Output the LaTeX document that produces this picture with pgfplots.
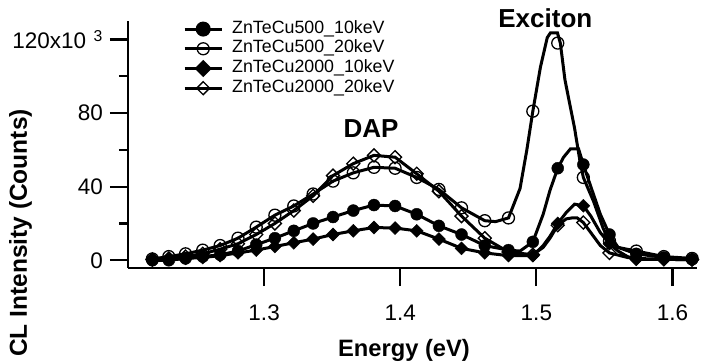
\documentclass[border=0pt]{standalone}
\usepackage{pgfplots}
\pgfplotsset{compat=1.18}
\usepackage{fontspec}
\setmainfont{Liberation Sans}

\begin{document}
\begin{tikzpicture}
\useasboundingbox (-128bp,-96bp) rectangle (574bp,268bp);
\begin{axis}[
  at={(0,0)}, anchor=south west,
  scale only axis, width=569bp, height=247bp,
  xmin=1.2, xmax=1.618, ymin=-4.2, ymax=130,
  axis x line*=bottom, axis y line*=left,
  axis line style={line width=2.2bp, -},
  tick align=outside,
  major tick length=18bp, minor tick length=9bp,
  every tick/.style={line width=2.2bp, black},
  xtick={1.3,1.4,1.5,1.6},
  xticklabels={1.3,1.4,1.5,1.6},
  ytick={0,40,80,120},
  yticklabels={0,40,80,{120x10\,\,\textsuperscript{3}}},
  minor ytick={20,60,100},
  ticklabel style={font=\fontsize{22.5bp}{25bp}\selectfont},
  xticklabel style={anchor=base, yshift=-34bp},
  yticklabel style={xshift=-3.5bp},
  clip=false,
  legend style={at={(rel axis cs:0.0967,1.008)}, anchor=north west, draw=none, fill=none,
    inner sep=0pt, font=\fontsize{17.8bp}{20bp}\selectfont, row sep=0bp, column sep=9bp,
    nodes={inner sep=0pt, text height=14bp, text depth=5.7bp},
    legend cell align=left},
  legend image code/.code={\draw[mark repeat=2,mark phase=2,#1] plot coordinates {(0bp,0bp) (18.5bp,0bp) (37bp,0bp)};},
]
% ZnTeCu500_10keV (filled circles)
\addplot[black, line width=3bp, forget plot] coordinates {
(1.2179,0) (1.2300,0) (1.2423,1) (1.2549,2) (1.2677,3) (1.2808,5) (1.2942,8.5) (1.3079,12)
(1.3218,16) (1.3360,20) (1.3506,23.5) (1.3655,27) (1.3807,30) (1.3962,29.5) (1.4121,25)
(1.4284,18.7) (1.4450,14) (1.4621,8) (1.4795,5.5) (1.4880,5) (1.4974,10) (1.5050,25)
(1.5100,38) (1.5157,50) (1.5200,56) (1.5250,60.5) (1.5310,60.5) (1.5345,52) (1.5400,40)
(1.5470,25) (1.5537,14) (1.5600,7) (1.5734,3.5) (1.5936,1.5) (1.6144,0.5) (1.6186,0.5)};
% ZnTeCu500_20keV (open circles)
\addplot[black, line width=3bp, forget plot] coordinates {
(1.2179,0.7) (1.2300,2) (1.2423,3.5) (1.2549,5.5) (1.2677,8) (1.2808,12) (1.2942,18) (1.3079,24.5)
(1.3218,29.5) (1.3360,36) (1.3506,43) (1.3655,47.5) (1.3807,50.5) (1.3962,50) (1.4121,45)
(1.4284,38.5) (1.4450,28.5) (1.4621,21.5) (1.4700,21) (1.4795,23) (1.4880,39) (1.4930,60)
(1.4974,81) (1.5030,105) (1.5080,121) (1.5103,123.5) (1.5155,123.5) (1.5176,118) (1.5210,98)
(1.5280,72) (1.5320,54) (1.5345,45) (1.5420,32) (1.5490,17.5) (1.5537,10.5) (1.5600,7)
(1.5734,5) (1.5936,2) (1.6144,1) (1.6186,1)};
% ZnTeCu2000_10keV (filled diamonds)
\addplot[black, line width=3bp, forget plot] coordinates {
(1.2179,0) (1.2300,0.5) (1.2423,1) (1.2549,1.5) (1.2677,2.5) (1.2808,4) (1.2942,5.5) (1.3079,7.5)
(1.3218,9.5) (1.3360,11.5) (1.3506,14) (1.3655,16) (1.3807,17.8) (1.3962,17.5) (1.4121,16)
(1.4284,11.5) (1.4450,6.5) (1.4621,4) (1.4795,2.5) (1.4974,2.5) (1.5050,8) (1.5100,13)
(1.5157,20) (1.5220,26) (1.5280,30.5) (1.5345,29.6) (1.5400,24) (1.5470,15) (1.5537,9)
(1.5600,5) (1.5670,2) (1.5734,0.5) (1.5936,0.5) (1.6144,0.3) (1.6186,0.3)};
% ZnTeCu2000_20keV (open diamonds)
\addplot[black, line width=3bp, forget plot] coordinates {
(1.2179,0.5) (1.2300,1) (1.2423,2) (1.2549,3.5) (1.2677,6) (1.2808,9) (1.2942,14) (1.3079,20)
(1.3218,27) (1.3360,35) (1.3506,46) (1.3655,52.5) (1.3807,57) (1.3962,56) (1.4121,47)
(1.4284,37.5) (1.4450,24) (1.4621,12) (1.4795,4.5) (1.4974,3) (1.5050,7) (1.5100,12)
(1.5157,19) (1.5220,22.5) (1.5260,23) (1.5300,23) (1.5345,20.5) (1.5400,15) (1.5470,8)
(1.5537,4) (1.5670,1.5) (1.5734,1) (1.5936,0.5) (1.6144,0.3) (1.6186,0.3)};
% markers
\addplot[black, only marks, mark=*, mark size=6bp, forget plot] coordinates {
(1.2179,0) (1.2300,0) (1.2423,1) (1.2549,2) (1.2677,3) (1.2808,5) (1.2942,8.5) (1.3079,12)
(1.3218,16) (1.3360,20) (1.3506,23.5) (1.3655,27) (1.3807,30) (1.3962,29.5) (1.4121,25)
(1.4284,18.7) (1.4450,14) (1.4621,8) (1.4795,5.5) (1.4974,10) (1.5157,50) (1.5345,52)
(1.5537,14) (1.5734,3.5) (1.5936,1.5) (1.6144,0.5)};
\addplot[black, only marks, mark=o, mark size=6bp, mark options={line width=1.3bp}, forget plot] coordinates {
(1.2179,0.7) (1.2300,2) (1.2423,3.5) (1.2549,5.5) (1.2677,8) (1.2808,12) (1.2942,18) (1.3079,24.5)
(1.3218,29.5) (1.3360,36) (1.3506,43) (1.3655,47.5) (1.3807,50.5) (1.3962,50) (1.4121,45)
(1.4284,38.5) (1.4450,28.5) (1.4621,21.5) (1.4795,23) (1.4974,81) (1.5157,118) (1.5345,45)
(1.5537,10.5) (1.5734,5) (1.5936,2) (1.6144,1)};
\addplot[black, only marks, mark=square*, mark size=4.6bp, mark options={rotate=45}, forget plot] coordinates {
(1.2179,0) (1.2300,0.5) (1.2423,1) (1.2549,1.5) (1.2677,2.5) (1.2808,4) (1.2942,5.5) (1.3079,7.5)
(1.3218,9.5) (1.3360,11.5) (1.3506,14) (1.3655,16) (1.3807,17.8) (1.3962,17.5) (1.4121,16)
(1.4284,11.5) (1.4450,6.5) (1.4621,4) (1.4795,2.5) (1.4974,2.5) (1.5157,20) (1.5345,29.6)
(1.5537,9) (1.5734,0.5) (1.5936,0.5) (1.6144,0.3)};
\addplot[black, only marks, mark=square, mark size=4.6bp, mark options={rotate=45, line width=1.3bp}, forget plot] coordinates {
(1.2179,0.5) (1.2300,1) (1.2423,2) (1.2549,3.5) (1.2677,6) (1.2808,9) (1.2942,14) (1.3079,20)
(1.3218,27) (1.3360,35) (1.3506,46) (1.3655,52.5) (1.3807,57) (1.3962,56) (1.4121,47)
(1.4284,37.5) (1.4450,24) (1.4621,12) (1.4795,4.5) (1.4974,3) (1.5157,19) (1.5345,20.5)
(1.5537,4) (1.5734,1) (1.5936,0.5) (1.6144,0.3)};
\addlegendimage{black, line width=3bp, mark=*, mark size=6bp}
\addlegendentry{ZnTeCu500\_10keV}
\addlegendimage{black, line width=3bp, mark=o, mark size=6bp, mark options={line width=1.3bp}}
\addlegendentry{ZnTeCu500\_20keV}
\addlegendimage{black, line width=3bp, mark=square*, mark size=4.6bp, mark options={rotate=45}}
\addlegendentry{ZnTeCu2000\_10keV}
\addlegendimage{black, line width=3bp, mark=square, mark size=4.6bp, mark options={rotate=45, line width=1.3bp}}
\addlegendentry{ZnTeCu2000\_20keV}
\node[font=\bfseries\fontsize{26bp}{29bp}\selectfont, anchor=base] at (axis cs:1.5066,126.2) {Exciton};
\node[font=\bfseries\fontsize{26bp}{29bp}\selectfont, anchor=base] at (axis cs:1.3785,66.7) {DAP};
\node[font=\bfseries\fontsize{24.5bp}{28bp}\selectfont, rotate=90, anchor=base] at (rel axis cs:-0.1775,0.1417) {CL Intensity (Counts)};
\node[font=\bfseries\fontsize{23.7bp}{28bp}\selectfont, anchor=base] at (rel axis cs:0.485,-0.3603) {Energy (eV)};
\end{axis}
\end{tikzpicture}
\end{document}
